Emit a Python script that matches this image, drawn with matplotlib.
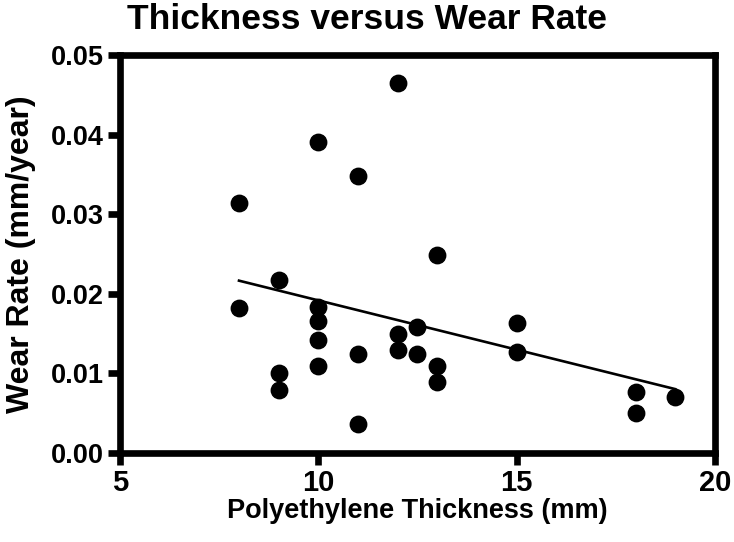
import numpy as np
import matplotlib
matplotlib.use('Agg')
import matplotlib.pyplot as plt

### Data
thickness = [8, 8, 9, 9, 9, 10, 10, 10, 10, 10, 11, 11, 11,
             12, 12, 12, 12.5, 12.5, 13, 13, 13, 15, 15, 18, 18, 19]
wear_rate = [0.0314, 0.0182, 0.0217, 0.0100, 0.0079, 0.0391, 0.0183, 0.0166, 0.0142, 0.0110,
             0.0348, 0.0124, 0.0037, 0.0465, 0.0150, 0.0130, 0.0158, 0.0124,
             0.0249, 0.0110, 0.0089, 0.0163, 0.0127, 0.0077, 0.0050, 0.0071]
x_ticks = [5, 10, 15, 20]
y_ticks = [0.00, 0.01, 0.02, 0.03, 0.04, 0.05]

plt.rcParams['font.family'] = ['Liberation Sans', 'DejaVu Sans']
plt.rcParams['font.weight'] = 'bold'

fig = plt.figure(figsize=(7.34, 5.42), dpi=100)
ax = fig.add_axes([0.1635, 0.164, 0.8105, 0.7345])

# linear fit
slope, intercept = np.polyfit(thickness, wear_rate, 1)
xfit = np.array([min(thickness), max(thickness)])
ax.plot(xfit, slope * xfit + intercept, color='black', lw=1.9, zorder=2)

ax.scatter(thickness, wear_rate, s=140, color='black', zorder=3, clip_on=False)

ax.set_xlim(5, 20)
ax.set_ylim(0, 0.05)
ax.set_xticks(x_ticks)
ax.set_yticks(y_ticks)
ax.set_yticklabels(['%.2f' % v for v in y_ticks])

for sp in ax.spines.values():
    sp.set_linewidth(4.8)
ax.tick_params(width=4.8, length=8.5)
ax.tick_params(axis='x', labelsize=21, pad=3)
ax.tick_params(axis='y', labelsize=19.5, pad=3)

ax.set_xlabel('Polyethylene Thickness (mm)', fontsize=19.5, fontweight='bold', labelpad=1)
ax.set_ylabel('Wear Rate (mm/year)', fontsize=23, fontweight='bold', labelpad=11)
fig.text(0.5, 1 - 29 / 542, 'Thickness versus Wear Rate', ha='center', va='baseline',
         fontsize=25.5, fontweight='bold')

fig.savefig('out.png', dpi=100)
